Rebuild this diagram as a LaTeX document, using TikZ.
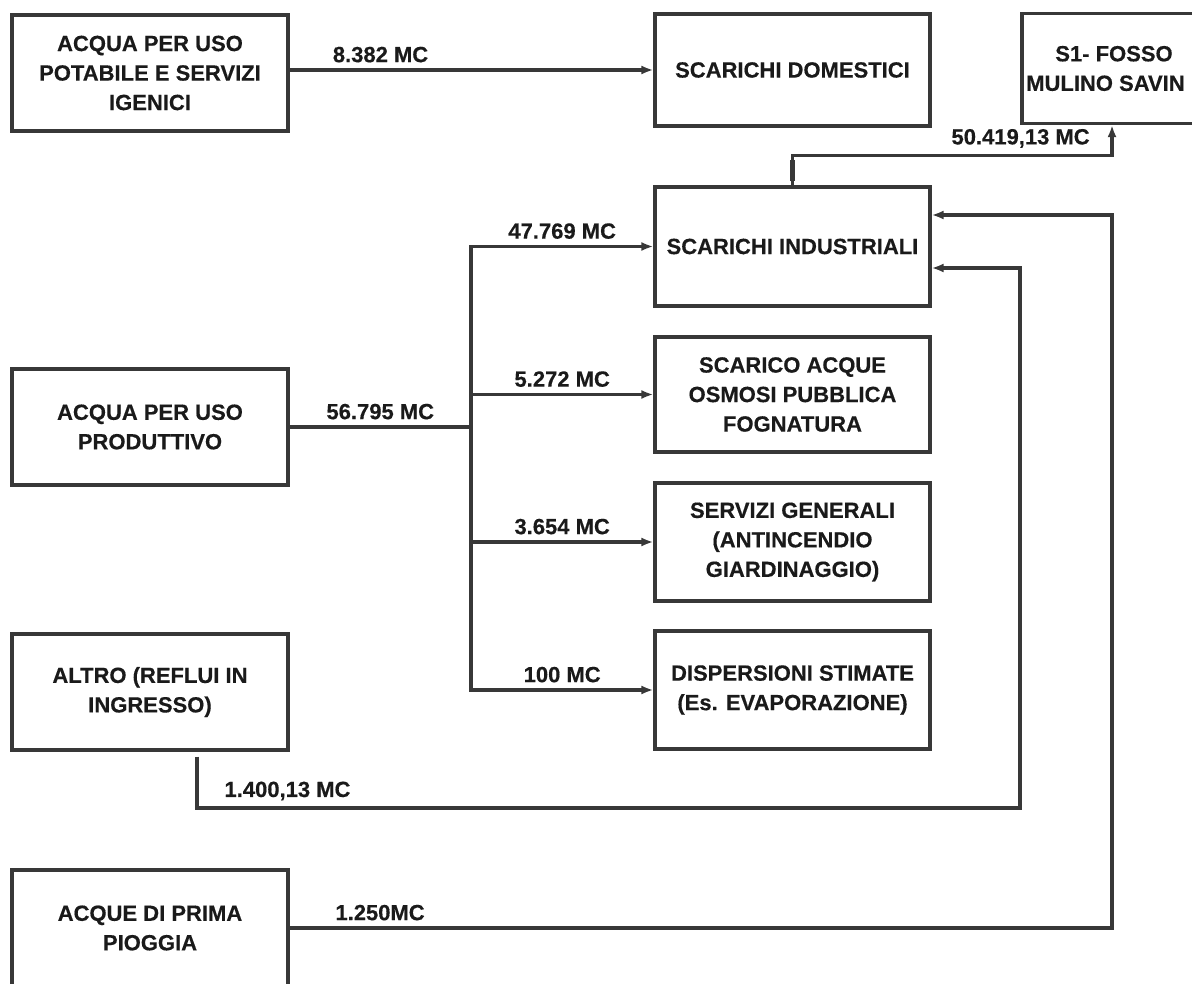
\documentclass[tikz,border=0pt]{standalone}
\usepackage{fontspec}
\setmainfont{Liberation Sans}[BoldFeatures={FakeBold=0.4}]
\usepackage{tikz}
\usetikzlibrary{calc,arrows.meta}
\definecolor{linegray}{HTML}{383838}
\definecolor{inkblack}{HTML}{1A1A1A}

\begin{document}
\begin{tikzpicture}[x=1pt,y=-1pt]
            \tikzstyle{box node}=[draw=linegray,line width=3.2pt,minimum width=276pt,minimum height=116pt,align=center,inner sep=2pt,text=inkblack,font=\bfseries\fontsize{22}{29.5}\selectfont];
            \tikzstyle{flow line}=[draw=linegray,line width=3.2pt];
            \tikzstyle{flow arrow}=[flow line,-{Latex[length=12pt,width=9pt]}];
            \tikzstyle{flow label}=[above,inner sep=6pt,text=inkblack,font=\bfseries\fontsize{22}{26}\selectfont];
            \useasboundingbox (0,0) rectangle (1192,984);
            \fill[white] (0,0) rectangle (1192,984);
            \begin{scope}
            \clip (0,0) rectangle (1192,984);
            % sources
            \node[box node] (potabile) at (150,73) {ACQUA PER USO\\POTABILE E SERVIZI\\IGENICI};
            \node[box node] (produttivo) at (150,427) {ACQUA PER USO\\PRODUTTIVO};
            \node[box node] (altro) at (150,692) {ALTRO (REFLUI IN\\INGRESSO)};
            \node[box node] (pioggia) at (150,928) {ACQUE DI PRIMA\\PIOGGIA};
            % destinations
            \node[box node,minimum width=275pt,minimum height=112pt] (domestici) at (792.5,70) {SCARICHI DOMESTICI};
            \node[box node,minimum width=275pt,minimum height=119pt] (industriali) at (792.5,246.5) {SCARICHI INDUSTRIALI};
            \node[box node,minimum width=275pt,minimum height=115pt] (osmosi) at (792.5,394.5) {SCARICO ACQUE\\OSMOSI PUBBLICA\\FOGNATURA};
            \node[box node,minimum width=275pt,minimum height=118pt] (servizi) at (792.5,542) {SERVIZI GENERALI\\(ANTINCENDIO\\GIARDINAGGIO)};
            \node[box node,minimum width=275pt,minimum height=118pt] (dispersioni) at (792.5,690) {DISPERSIONI STIMATE\\(Es. EVAPORAZIONE)};
            \node[box node,minimum width=184pt,minimum height=110pt] (fosso) at (1114,68.5) {S1- FOSSO\\MULINO SAVIN\phantom{O}};
            % corners
            \coordinate (split) at (471,427);
            \coordinate (altro-out) at ([xshift=47pt,yshift=-5pt]altro.south);
            \coordinate (loop-a) at (1020,808);
            \coordinate (in-a) at ([yshift=-21.5pt]industriali.east);
            \coordinate (loop-b) at (1112,928);
            \coordinate (in-b) at ([yshift=31.5pt]industriali.east);
            % flows
            \draw[flow arrow] (potabile.east |- domestici.west) -- node[flow label,pos=0.25] (q-dom) {8.382 MC} (domestici.west);
            \draw[flow line] (produttivo.east) -- node[flow label] (q-prod) {56.795 MC} (split);
            \draw[flow line,line cap=rect] (split |- industriali.west) -- (split |- dispersioni.west);
            \foreach \b/\q in {industriali/47.769 MC,osmosi/5.272 MC,servizi/3.654 MC,dispersioni/100 MC}
                \draw[flow arrow] (split |- \b.west) -- node[flow label] (q-\b) {\q} (\b.west);
            \draw[flow arrow] (industriali.north) -- ++(0,-30) -| node[flow label,pos=0.357] (q-fosso) {50.419,13 MC} ([xshift=-2pt]fosso.south);
            \draw[linegray,line width=5.5pt] ([yshift=4pt]industriali.north) -- ++(0,-21);
            \draw[flow arrow] (altro-out) |- node[flow label,pos=0.555] (q-altro) {1.400,13 MC} (loop-a) |- (in-a);
            \draw[flow arrow] (pioggia.east) -- node[flow label,pos=0.11] (q-pioggia) {1.250MC} (loop-b) |- (in-b);
            \end{scope}
\end{tikzpicture}
\end{document}
